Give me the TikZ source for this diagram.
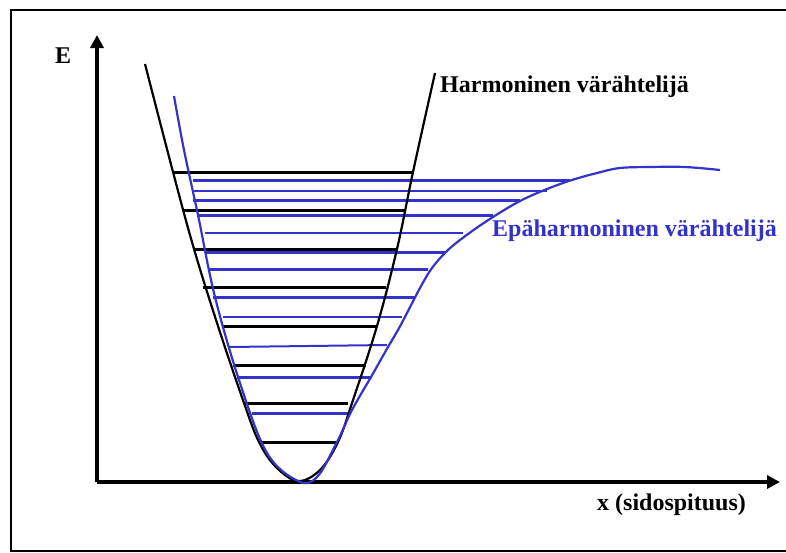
\documentclass[tikz,border=0pt]{standalone}
\usepackage{fontspec}
\setmainfont{Liberation Serif}
\usetikzlibrary{arrows.meta}
\definecolor{vblue}{RGB}{51,51,204}

\begin{document}
\begin{tikzpicture}[x=1pt,y=-1pt,
    lbl/.style={font=\bfseries\fontsize{24}{28}\selectfont,inner sep=0,anchor=base west},
    axis/.style={line width=4pt,-{Triangle[length=13pt,width=13pt]}},
    hcurve/.style={line width=2.2pt},
    hlevel/.style={line width=3pt},
    alevel/.style={line width=3pt,vblue}]
      \useasboundingbox (0,0) rectangle (786,552);
      \draw[line width=2pt] (11,10) rectangle (792,551);
      \coordinate (o) at (97,482);
      \coordinate (ytip) at (97,35);
      \coordinate (xtip) at (780,482);
      \draw[axis] (o)--(ytip);
      \draw[axis] (o)--(xtip);
      \node[lbl] (elabel) at (55,63) {E};
      \node[lbl] (xlabel) at (597,510) {x (sidospituus)};
      \node[lbl] (harm) at (440,92) {Harmoninen värähtelijä};
      \node[lbl,text=vblue] (anharm) at (492,236) {Epäharmoninen värähtelijä};
      % harmonic levels
      \draw[hlevel] (173,172)--(413,172);
      \draw[hlevel] (183,210)--(405,210);
      \draw[hlevel] (194,249)--(396,249);
      \draw[hlevel] (203,287)--(386,287);
      \draw[hlevel] (222,326)--(377,326);
      \draw[hlevel] (233,365)--(366,365);
      \draw[hlevel] (245,403)--(348,403);
      \draw[hlevel] (261,442)--(337,442);
      % anharmonic levels
      \draw[alevel] (193,180)--(570,180);
      \draw[alevel,line width=2pt] (193,191)--(547,191);
      \draw[alevel] (193,200)--(520,200);
      \draw[alevel] (198,215)--(493,215);
      \draw[alevel,line width=2pt] (205,233)--(463,233);
      \draw[alevel] (205,252)--(445,252);
      \draw[alevel] (209,269)--(428,269);
      \draw[alevel] (213,297)--(415,297);
      \draw[alevel,line width=2pt] (223,317)--(402,317);
      \draw[alevel,line width=2pt] (229,347)--(387,345);
      \draw[alevel] (237,377)--(371,377);
      \draw[alevel] (252,413)--(348,413);
      % potentials
      \draw[hcurve] plot[smooth,tension=0.6] coordinates {(145,64) (173,172) (194,249) (218,326)
        (244,403) (259,442) (276,467) (298,481) (320,470) (338,442) (352,403) (377,326)
        (397,249) (413,172) (435,73)};
      \draw[hcurve,vblue] plot[smooth,tension=0.6] coordinates {(174,96) (184,150) (198,215)
        (215,297) (240,383) (267,453) (298,481) (317,477) (337,442) (352,410) (371,377)
        (388,347) (398,330) (407,313) (420,288) (432,268) (448,250) (468,234) (493,217)
        (520,201) (547,189) (572,180) (597,173) (620,168) (650,167) (685,167) (720,170)};
\end{tikzpicture}
\end{document}
